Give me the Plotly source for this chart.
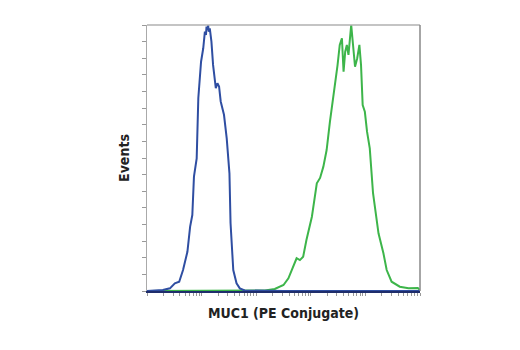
import plotly.graph_objects as go

# log10 fluorescence intensity (decades) and event counts
blue_log = [0.0, 0.29, 0.42, 0.51, 0.59, 0.66, 0.74, 0.79, 0.83, 0.86, 0.91, 0.94, 0.99, 1.03,
            1.06, 1.08, 1.09, 1.11, 1.12, 1.13, 1.15, 1.18, 1.21, 1.24, 1.26, 1.29, 1.32, 1.35,
            1.41, 1.46, 1.49, 1.51, 1.53, 1.58, 1.64, 1.70, 1.79, 2.5, 5.0]
blue_cnt = [0, 0.6, 1.6, 4.6, 5.6, 12.6, 23.6, 38.7, 45.7, 68.8, 79.8, 116.1, 137.9, 146,
            156, 154, 159, 157, 160, 156, 158, 150, 136, 127, 122, 125, 123, 114,
            106, 91.8, 81.8, 70.8, 40.9, 12.6, 4.6, 1.6, 0.3, 0, 0]

green_log = [0.0, 1.5, 2.16, 2.34, 2.50, 2.59, 2.68, 2.74, 2.80, 2.86, 2.92, 3.02, 3.11, 3.17,
             3.23, 3.29, 3.35, 3.40, 3.44, 3.49, 3.53, 3.57, 3.60, 3.63, 3.66, 3.69, 3.74,
             3.78, 3.81, 3.85, 3.89, 3.92, 3.95, 3.99, 4.03, 4.08, 4.14, 4.24, 4.33, 4.39,
             4.48, 4.63, 4.79, 4.96, 5.0]
green_cnt = [0, 0.3, 0.3, 1.2, 3.6, 7.6, 14.6, 19.7, 18.6, 20.6, 30.7, 44.7, 64.8, 68,
             74.8, 84.8, 101.8, 113.9, 121.9, 135.9, 148, 152, 131.9, 143.9, 148, 142, 160,
             148, 134.9, 140, 148, 135.9, 111.9, 107.8, 95.8, 85.8, 58.8, 34.7, 22.7, 12.6,
             5.6, 2.6, 1.6, 1.8, 0.6]

x_title = "MUC1 (PE Conjugate)"
y_title = "Events"

blue_x = [10 ** v for v in blue_log]
green_x = [10 ** v for v in green_log]

x_ticks = [m * 10 ** d for d in range(0, 5) for m in range(1, 10)] + [10 ** 5]
y_ticks = list(range(0, 161, 10))

fig = go.Figure()
fig.add_trace(go.Scatter(x=green_x, y=green_cnt, mode="lines",
                         line=dict(color="#3db54a", width=2), showlegend=False))
fig.add_trace(go.Scatter(x=blue_x, y=blue_cnt, mode="lines",
                         line=dict(color="#2f4ea2", width=2), showlegend=False))

font_family = "Liberation Sans Narrow, DejaVu Sans Condensed, Arial Narrow, sans-serif"

fig.update_layout(
    width=520, height=350,
    margin=dict(l=147, r=100, t=25, b=59),
    paper_bgcolor="white", plot_bgcolor="white",
    xaxis=dict(type="log", range=[0, 5], tickvals=x_ticks, showticklabels=False,
               ticks="outside", ticklen=3, tickcolor="#999999", tickwidth=1,
               showgrid=False, zeroline=False, showline=True, linecolor="#1f2d6b",
               linewidth=1.5, mirror=False,
               title=dict(text="<b>" + x_title + "</b>", standoff=13,
                          font=dict(family=font_family, size=14, color="#222222"))),
    yaxis=dict(range=[0, 160], tickvals=y_ticks, showticklabels=False,
               ticks="outside", ticklen=4, tickcolor="#999999", tickwidth=1,
               showgrid=False, zeroline=False, showline=True, linecolor="#aaaaaa",
               linewidth=1, mirror=False,
               title=dict(text="<b>" + y_title + "</b>", standoff=9,
                          font=dict(family=font_family, size=14, color="#222222"))),
    shapes=[
        dict(type="line", xref="paper", yref="paper", x0=0, x1=1, y0=1, y1=1,
             line=dict(color="#b0b0b0", width=1.5)),
        dict(type="line", xref="paper", yref="paper", x0=1, x1=1, y0=0, y1=1,
             line=dict(color="#888888", width=1.5)),
    ],
)

fig.write_html("out.html")
